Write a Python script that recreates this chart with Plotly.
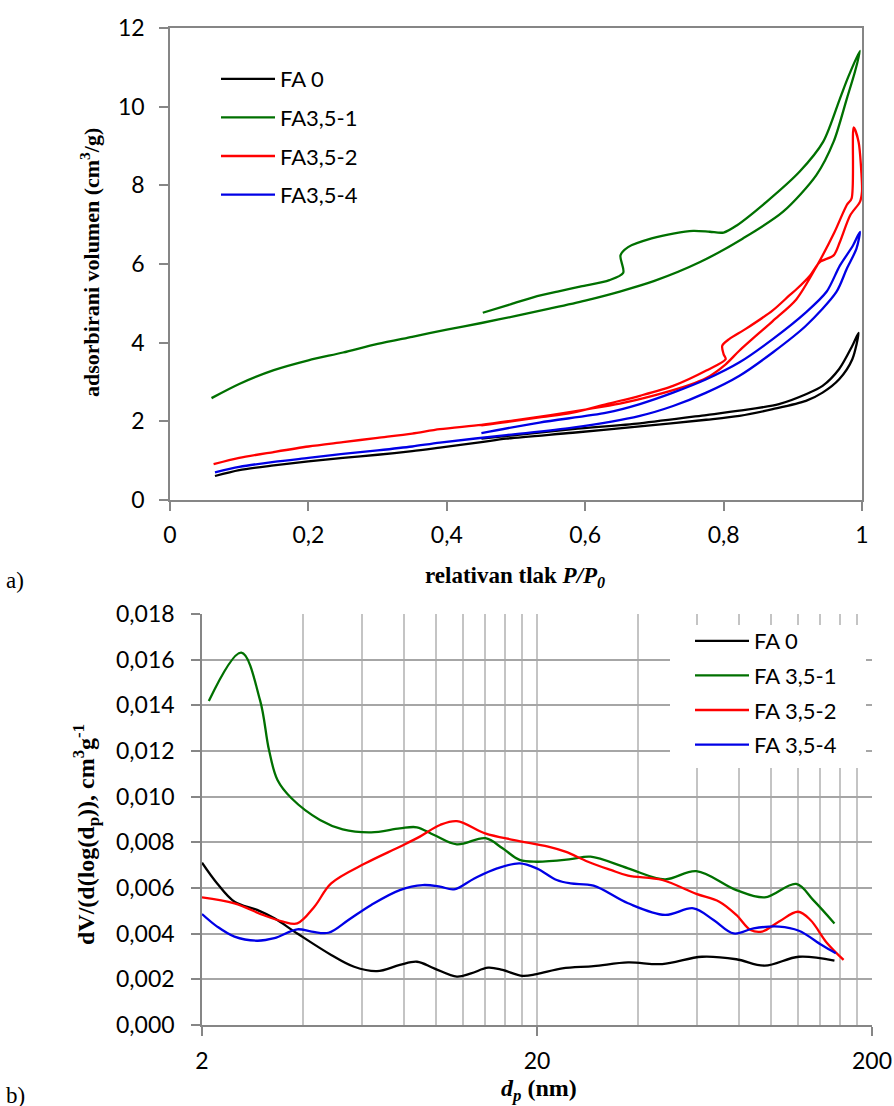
import numpy as np
import plotly.graph_objects as go

# ---------------- (a) isotherms: relative pressure P/P0 vs adsorbed volume ----------------
names_a = ["FA 0", "FA3,5-1", "FA3,5-2", "FA3,5-4"]
names_b = ["FA 0", "FA 3,5-1", "FA 3,5-2", "FA 3,5-4"]
colors = ["#000000", "#007000", "#ff0000", "#0000e6"]

fa0_ads_p = [0.065, 0.1, 0.15, 0.2, 0.25, 0.3, 0.35, 0.39, 0.45, 0.486, 0.582, 0.679, 0.775, 0.823, 0.871, 0.919, 0.943, 0.967, 0.986, 0.995]
fa0_ads_v = [0.61, 0.76, 0.88, 0.98, 1.07, 1.15, 1.24, 1.33, 1.47, 1.56, 1.71, 1.87, 2.04, 2.14, 2.31, 2.52, 2.73, 3.07, 3.58, 4.25]
fa0_des_p = [0.986, 0.967, 0.943, 0.919, 0.88, 0.823, 0.775, 0.679, 0.582, 0.45]
fa0_des_v = [3.92, 3.33, 2.90, 2.69, 2.44, 2.27, 2.16, 1.95, 1.80, 1.56]

fa1_ads_p = [0.06, 0.1, 0.15, 0.2, 0.25, 0.3, 0.35, 0.4, 0.45, 0.5, 0.55, 0.6, 0.65, 0.7, 0.766, 0.828, 0.886, 0.934, 0.959, 0.978, 0.99, 0.997]
fa1_ads_v = [2.59, 2.95, 3.3, 3.55, 3.75, 3.97, 4.15, 4.33, 4.5, 4.68, 4.87, 5.07, 5.3, 5.57, 6.05, 6.65, 7.33, 8.26, 9.11, 10.2, 10.9, 11.42]
fa1_des_p = [0.98, 0.968, 0.944, 0.91, 0.862, 0.819, 0.8, 0.78, 0.756, 0.729, 0.696, 0.662, 0.651, 0.655, 0.635, 0.594, 0.56, 0.526, 0.493, 0.452]
fa1_des_v = [10.75, 10.2, 9.11, 8.35, 7.58, 6.98, 6.8, 6.82, 6.84, 6.78, 6.65, 6.43, 6.22, 5.78, 5.59, 5.43, 5.30, 5.16, 4.98, 4.76]

fa2_ads_p = [0.063, 0.1, 0.15, 0.2, 0.25, 0.3, 0.35, 0.39, 0.45, 0.5, 0.55, 0.6, 0.65, 0.7, 0.75, 0.775, 0.803, 0.823, 0.871, 0.905, 0.935, 0.96, 0.978, 0.985, 0.988, 0.995, 0.999, 1.0]
fa2_ads_v = [0.91, 1.07, 1.22, 1.36, 1.47, 1.58, 1.69, 1.80, 1.91, 2.03, 2.16, 2.3, 2.45, 2.66, 2.92, 3.1, 3.45, 3.8, 4.55, 5.1, 5.96, 6.8, 7.5, 7.67, 9.47, 9.11, 8.35, 7.84]
fa2_des_p = [0.997, 0.983, 0.968, 0.959, 0.939, 0.925, 0.906, 0.895, 0.871, 0.832, 0.808, 0.798, 0.8, 0.803, 0.775, 0.727, 0.679, 0.631, 0.582, 0.534, 0.486, 0.45]
fa2_des_v = [7.58, 7.24, 6.56, 6.22, 6.05, 5.71, 5.37, 5.2, 4.82, 4.35, 4.09, 3.92, 3.71, 3.58, 3.29, 2.90, 2.65, 2.44, 2.22, 2.10, 1.98, 1.90]

fa4_ads_p = [0.065, 0.1, 0.15, 0.2, 0.25, 0.3, 0.35, 0.39, 0.486, 0.582, 0.679, 0.727, 0.775, 0.823, 0.871, 0.919, 0.963, 0.978, 0.992, 0.997]
fa4_ads_v = [0.70, 0.84, 0.97, 1.07, 1.17, 1.26, 1.36, 1.46, 1.65, 1.84, 2.14, 2.39, 2.73, 3.16, 3.75, 4.43, 5.29, 5.88, 6.39, 6.82]
fa4_des_p = [0.987, 0.968, 0.949, 0.919, 0.871, 0.823, 0.775, 0.727, 0.679, 0.631, 0.534, 0.45]
fa4_des_v = [6.47, 5.96, 5.3, 4.77, 4.09, 3.50, 3.07, 2.73, 2.44, 2.22, 1.97, 1.70]

iso_p = [fa0_ads_p + fa0_des_p, fa1_ads_p + fa1_des_p, fa2_ads_p + fa2_des_p, fa4_ads_p + fa4_des_p]
iso_v = [fa0_ads_v + fa0_des_v, fa1_ads_v + fa1_des_v, fa2_ads_v + fa2_des_v, fa4_ads_v + fa4_des_v]

# ---------------- (b) pore size distribution ----------------
fa0_d = [2.0, 2.22, 2.5, 2.92, 3.29, 3.85, 4.86, 5.69, 6.66, 7.79, 8.77, 9.86, 11.53, 12.71, 14.3, 15.78, 18.1, 19.96, 23.8, 29.5, 37.4, 47.3, 62.2, 78.7, 95.7, 121.0, 154.5]
fa0_dv = [0.00711, 0.00620, 0.00540, 0.00504, 0.00467, 0.00401, 0.00307, 0.00255, 0.00236, 0.00263, 0.00277, 0.00248, 0.00212, 0.00226, 0.00251, 0.00241, 0.00215, 0.00223, 0.00248, 0.00258, 0.00274, 0.00267, 0.00299, 0.00288, 0.00260, 0.00299, 0.00282]

fa1_d = [2.096, 2.62, 2.98, 3.17, 3.36, 3.70, 4.50, 5.26, 6.40, 7.79, 8.76, 9.86, 11.53, 14.03, 15.78, 17.75, 19.96, 25.2, 28.9, 37.4, 48.2, 59.8, 78.7, 95.7, 118.8, 133.6, 154.5]
fa1_dv = [0.01419, 0.01631, 0.01423, 0.01204, 0.01073, 0.00993, 0.00898, 0.00857, 0.00844, 0.00861, 0.00866, 0.00832, 0.00791, 0.00818, 0.00774, 0.00723, 0.00715, 0.00726, 0.00737, 0.00686, 0.00638, 0.00674, 0.00591, 0.00559, 0.00618, 0.00547, 0.00445]

fa2_d = [2.0, 2.5, 3.04, 3.49, 3.85, 4.33, 4.86, 6.15, 7.79, 8.94, 10.27, 11.53, 14.0, 17.1, 21.6, 24.3, 28.4, 33.2, 37.4, 47.3, 59.8, 70.0, 78.7, 86.8, 93.9, 105.6, 120.3, 131.0, 147.0, 164.5]
fa2_dv = [0.00559, 0.00533, 0.00482, 0.00453, 0.00445, 0.00518, 0.00620, 0.00708, 0.00781, 0.00825, 0.00876, 0.00893, 0.00839, 0.00810, 0.00781, 0.00759, 0.00715, 0.00679, 0.00654, 0.00635, 0.00574, 0.00540, 0.00482, 0.00416, 0.00409, 0.00453, 0.00496, 0.00460, 0.00358, 0.00285]

fa4_d = [2.0, 2.22, 2.5, 2.92, 3.29, 3.85, 4.25, 4.77, 5.47, 6.40, 7.79, 9.12, 10.27, 11.3, 13.0, 15.2, 17.75, 19.96, 22.9, 25.2, 29.5, 37.4, 48.2, 58.6, 67.3, 77.3, 88.6, 105.6, 121.0, 141.6, 156.0]
fa4_dv = [0.00486, 0.00431, 0.00387, 0.00369, 0.00380, 0.00419, 0.00409, 0.00404, 0.00460, 0.00526, 0.00591, 0.00613, 0.00606, 0.00594, 0.00642, 0.00686, 0.00708, 0.00686, 0.00635, 0.00620, 0.00610, 0.00533, 0.00482, 0.00511, 0.00460, 0.00401, 0.00423, 0.00431, 0.00413, 0.00350, 0.00314]

psd_d = [fa0_d, fa1_d, fa2_d, fa4_d]
psd_v = [fa0_dv, fa1_dv, fa2_dv, fa4_dv]

y_ticks_a = [0, 2, 4, 6, 8, 10, 12]
x_ticks_a = [0, 0.2, 0.4, 0.6, 0.8, 1.0]
x_major_b = [2, 20, 200]
x_minor_b = [4, 6, 8, 10, 12, 14, 16, 18, 40, 60, 80, 100, 120, 140, 160, 180]

# ---------------- figure ----------------
W, H = 894, 1106
def px_x(p):
    return p / W
def px_y(p):
    return 1 - p / H

fig = go.Figure()
for i in range(4):
    fig.add_trace(go.Scatter(
        x=iso_p[i], y=iso_v[i], mode="lines", name=names_a[i],
        line=dict(color=colors[i], width=2.3, shape="spline", smoothing=0.8),
        xaxis="x", yaxis="y", legend="legend", legendgroup="a%d" % i))
for i in range(4):
    fig.add_trace(go.Scatter(
        x=psd_d[i], y=psd_v[i], mode="lines", name=names_b[i],
        line=dict(color=colors[i], width=2.3, shape="spline", smoothing=1.0),
        xaxis="x2", yaxis="y2", legend="legend2", legendgroup="b%d" % i))

AX = "#868686"
tickfont = dict(family="Lato", size=23, color="#000000")
serif = "Liberation Serif"

fig.update_layout(
    width=W, height=H, margin=dict(l=0, r=0, t=0, b=0, autoexpand=False),
    paper_bgcolor="white", plot_bgcolor="white",
    separators=", ",
    showlegend=True,
    xaxis=dict(domain=[px_x(170), px_x(862)], anchor="y", range=[0, 1], automargin=False,
               tickvals=x_ticks_a, showgrid=False, zeroline=False,
               showline=True, linecolor=AX, linewidth=1.6, mirror=True,
               ticks="outside", ticklen=9, tickcolor=AX, tickwidth=1.6,
               tickfont=tickfont, ticklabelstandoff=5),
    yaxis=dict(domain=[px_y(500), px_y(28)], anchor="x", range=[0, 12], automargin=False,
               tickvals=y_ticks_a, showgrid=False, zeroline=False,
               showline=True, linecolor=AX, linewidth=1.6, mirror=True,
               ticks="outside", ticklen=9, tickcolor=AX, tickwidth=1.6,
               tickfont=tickfont, ticklabelstandoff=10),
    xaxis2=dict(domain=[px_x(202), px_x(872)], anchor="y2", type="log", automargin=False,
                range=[np.log10(2), np.log10(200)],
                tickvals=x_major_b, ticktext=[str(v) for v in x_major_b],
                showgrid=True, gridcolor="#c4c4c4", gridwidth=1.6, zeroline=False,
                minor=dict(tickvals=x_minor_b, showgrid=True, gridcolor="#c4c4c4",
                           gridwidth=1.6, ticks=""),
                showline=True, linecolor=AX, linewidth=1.6,
                ticks="outside", ticklen=9, tickcolor=AX, tickwidth=1.6,
                tickfont=tickfont, ticklabelstandoff=6),
    yaxis2=dict(domain=[px_y(1025), px_y(614)], anchor="x2", range=[0, 0.018], automargin=False,
                dtick=0.002, tick0=0, tickformat=".3f",
                showgrid=True, gridcolor="#a6a6a6", gridwidth=1.8, zeroline=False,
                showline=True, linecolor=AX, linewidth=1.6,
                ticks="outside", ticklen=9, tickcolor=AX, tickwidth=1.6,
                tickfont=tickfont, ticklabelstandoff=12),
    legend=dict(x=px_x(216), y=px_y(58), xanchor="left", yanchor="top",
                bgcolor="rgba(0,0,0,0)", font=dict(family="Lato", size=22, color="#000"),
                traceorder="grouped", tracegroupgap=7, itemwidth=54),
    legend2=dict(x=px_x(690), y=px_y(620), xanchor="left", yanchor="top",
                 bgcolor="rgba(0,0,0,0)", font=dict(family="Lato", size=22, color="#000"),
                 traceorder="grouped", tracegroupgap=3, itemwidth=54),
    shapes=[dict(type="rect", xref="paper", yref="paper",
                 x0=px_x(670), x1=px_x(866), y0=px_y(768), y1=px_y(625),
                 fillcolor="white", line=dict(width=0), layer="above")],
    annotations=[
        dict(text="<b>adsorbirani volumen (cm<sup>3</sup>/g)</b>", xref="paper", yref="paper",
             x=px_x(90), y=px_y(263), textangle=-90, showarrow=False,
             font=dict(family=serif, size=22, color="#000"), xanchor="center", yanchor="middle"),
        dict(text="<b>relativan tlak <i>P/P<sub>0</sub></i></b>", xref="paper", yref="paper",
             x=px_x(515), y=px_y(577), showarrow=False,
             font=dict(family=serif, size=23, color="#000"), xanchor="center", yanchor="middle"),
        dict(text="<b>dV/(d(log(d<sub>p</sub>)), cm<sup>3</sup>g<sup>-1</sup></b>", xref="paper", yref="paper",
             x=px_x(86), y=px_y(835), textangle=-90, showarrow=False,
             font=dict(family=serif, size=24, color="#000"), xanchor="center", yanchor="middle"),
        dict(text="<b><i>d<sub>p</sub></i> (nm)</b>", xref="paper", yref="paper",
             x=px_x(539), y=px_y(1090), showarrow=False,
             font=dict(family=serif, size=24, color="#000"), xanchor="center", yanchor="middle"),
        dict(text="a)", xref="paper", yref="paper", x=px_x(4), y=px_y(580), showarrow=False,
             font=dict(family=serif, size=23, color="#000"), xanchor="left", yanchor="middle"),
        dict(text="b)", xref="paper", yref="paper", x=px_x(4), y=px_y(1095), showarrow=False,
             font=dict(family=serif, size=23, color="#000"), xanchor="left", yanchor="middle"),
    ],
)

fig.write_html("out.html", config={"displayModeBar": False},
               post_script="document.body.style.margin='0';document.body.style.overflow='hidden';")
